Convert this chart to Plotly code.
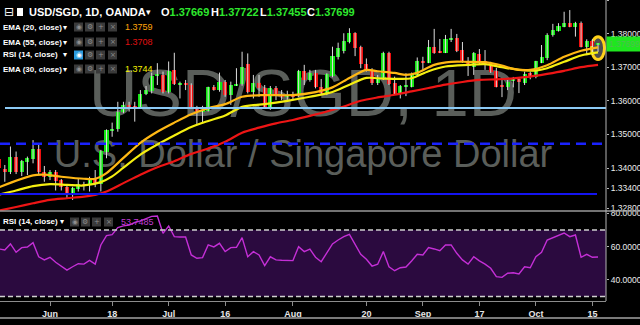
import plotly.graph_objects as go
import pandas as pd

# ------------------------------------------------------------------ data
dates = pd.bdate_range("2018-05-21", "2018-10-16")

opens = [1.3426, 1.3397, 1.3389, 1.3432, 1.3389, 1.3419, 1.3426, 1.3457, 1.3389,
         1.3372, 1.3388, 1.3364, 1.3344, 1.3323, 1.3337, 1.3352, 1.3348, 1.3366, 1.3351,
         1.3449, 1.3510, 1.3515, 1.3568, 1.3586, 1.3584, 1.3581, 1.3619, 1.3629, 1.3675,
         1.3677, 1.3625, 1.3692, 1.3649, 1.3652, 1.3647, 1.3581, 1.3567, 1.3571, 1.3640,
         1.3632, 1.3655, 1.3617, 1.3647, 1.3651, 1.3710, 1.3627, 1.3652, 1.3637, 1.3583,
         1.3637, 1.3617, 1.3612, 1.3614, 1.3617, 1.3690, 1.3662, 1.3684, 1.3642, 1.3620,
         1.3674, 1.3729, 1.3749, 1.3776, 1.3801, 1.3759, 1.3710, 1.3692, 1.3654, 1.3664,
         1.3741, 1.3652, 1.3620, 1.3642, 1.3642, 1.3677, 1.3719, 1.3714, 1.3759, 1.3748,
         1.3743, 1.3781, 1.3787, 1.3751, 1.3719, 1.3701, 1.3739, 1.3719, 1.3707, 1.3689,
         1.3647, 1.3641, 1.3660, 1.3665, 1.3653, 1.3683, 1.3670, 1.3714, 1.3726, 1.3796,
         1.3809, 1.3821, 1.3833, 1.3821, 1.3833, 1.3761, 1.3779, 1.37669]
highs = [1.3430, 1.3409, 1.3464, 1.3449, 1.3424, 1.3434, 1.3483, 1.3471, 1.3406,
         1.3394, 1.3394, 1.3367, 1.3347, 1.3344, 1.3369, 1.3359, 1.3374, 1.3394, 1.3454,
         1.3515, 1.3535, 1.3597, 1.3597, 1.3597, 1.3597, 1.3632, 1.3644, 1.3684, 1.3712,
         1.3687, 1.3717, 1.3743, 1.3657, 1.3662, 1.3652, 1.3585, 1.3585, 1.3642, 1.3647,
         1.3684, 1.3662, 1.3657, 1.3697, 1.3746, 1.3741, 1.3677, 1.3677, 1.3647, 1.3644,
         1.3644, 1.3632, 1.3630, 1.3627, 1.3692, 1.3707, 1.3692, 1.3692, 1.3665, 1.3682,
         1.3761, 1.3773, 1.3801, 1.3816, 1.3804, 1.3764, 1.3726, 1.3697, 1.3677, 1.3746,
         1.3746, 1.3672, 1.3647, 1.3682, 1.3684, 1.3729, 1.3731, 1.3781, 1.3814, 1.3784,
         1.3796, 1.3814, 1.3799, 1.3775, 1.3730, 1.3745, 1.3754, 1.3751, 1.3716, 1.3698,
         1.3668, 1.3662, 1.3671, 1.3668, 1.3687, 1.3687, 1.3719, 1.3766, 1.3801, 1.3829,
         1.3831, 1.3865, 1.3870, 1.3835, 1.3836, 1.3783, 1.3783, 1.37722]
lows = [1.3396, 1.3359, 1.3382, 1.3382, 1.3376, 1.3379, 1.3414, 1.3382, 1.3359,
        1.3364, 1.3333, 1.3333, 1.3310, 1.3305, 1.3330, 1.3333, 1.3330, 1.3343, 1.3330,
        1.3429, 1.3493, 1.3508, 1.3563, 1.3568, 1.3538, 1.3578, 1.3617, 1.3622, 1.3647,
        1.3622, 1.3622, 1.3647, 1.3607, 1.3632, 1.3578, 1.3531, 1.3533, 1.3568, 1.3630,
        1.3627, 1.3612, 1.3588, 1.3644, 1.3645, 1.3622, 1.3607, 1.3612, 1.3578, 1.3573,
        1.3602, 1.3602, 1.3603, 1.3602, 1.3612, 1.3647, 1.3657, 1.3637, 1.3620, 1.3617,
        1.3670, 1.3723, 1.3741, 1.3771, 1.3733, 1.3697, 1.3687, 1.3647, 1.3647, 1.3662,
        1.3647, 1.3617, 1.3607, 1.3614, 1.3640, 1.3672, 1.3692, 1.3712, 1.3740, 1.3742,
        1.3742, 1.3775, 1.3745, 1.3713, 1.3674, 1.3677, 1.3707, 1.3692, 1.3683, 1.3640,
        1.3611, 1.3632, 1.3640, 1.3623, 1.3647, 1.3664, 1.3667, 1.3712, 1.3721, 1.3791,
        1.3806, 1.3819, 1.3819, 1.3791, 1.3759, 1.3736, 1.3736, 1.37455]
closes = [1.3399, 1.3389, 1.3432, 1.3389, 1.3421, 1.3431, 1.3457, 1.3389, 1.3372,
          1.3388, 1.3361, 1.3344, 1.3323, 1.3340, 1.3352, 1.3348, 1.3366, 1.3351, 1.3451,
          1.3513, 1.3516, 1.3568, 1.3588, 1.3582, 1.3580, 1.3620, 1.3632, 1.3675, 1.3679,
          1.3625, 1.3690, 1.3650, 1.3652, 1.3649, 1.3581, 1.3568, 1.3573, 1.3640, 1.3632,
          1.3655, 1.3617, 1.3647, 1.3651, 1.3702, 1.3627, 1.3652, 1.3637, 1.3583, 1.3637,
          1.3617, 1.3612, 1.3614, 1.3612, 1.3690, 1.3662, 1.3684, 1.3640, 1.3622, 1.3680,
          1.3733, 1.3756, 1.3779, 1.3803, 1.3756, 1.3709, 1.3692, 1.3654, 1.3664, 1.3741,
          1.3650, 1.3620, 1.3644, 1.3647, 1.3677, 1.3717, 1.3714, 1.3759, 1.3743, 1.3743,
          1.3783, 1.3784, 1.3748, 1.3716, 1.3704, 1.3742, 1.3716, 1.3707, 1.3686, 1.3641,
          1.3641, 1.3656, 1.3662, 1.3656, 1.3680, 1.3671, 1.3717, 1.3729, 1.3796, 1.3811,
          1.3823, 1.3833, 1.3819, 1.3833, 1.3761, 1.3779, 1.3763, 1.37699]

rsi = [58.6, 58.0, 61.6, 56.6, 59.4, 59.8, 62.4, 53.9, 52.0,
       53.6, 50.6, 48.2, 45.9, 47.9, 49.7, 49.5, 51.7, 49.5, 61.0,
       66.6, 67.2, 71.4, 72.5, 73.0, 74.5, 75.5, 77.0, 78.2, 78.4,
       68.0, 72.4, 66.0, 65.8, 65.8, 55.0, 53.0, 53.4, 61.0, 59.8,
       62.0, 57.0, 59.4, 59.6, 65.4, 53.9, 57.0, 55.0, 48.6, 53.9,
       52.0, 51.8, 51.7, 51.6, 60.0, 57.0, 58.5, 53.6, 50.9, 56.0,
       61.6, 64.0, 66.0, 67.4, 61.0, 55.4, 52.4, 48.3, 49.4, 57.0,
       47.9, 45.5, 47.3, 47.7, 51.4, 55.4, 55.0, 59.4, 58.6, 57.6,
       61.0, 61.0, 56.0, 52.0, 49.5, 53.9, 51.4, 49.5, 47.0, 41.9,
       41.5, 44.0, 44.3, 43.5, 47.9, 47.3, 53.9, 56.6, 64.0, 65.4,
       67.0, 68.2, 66.0, 67.0, 53.6, 55.4, 53.6, 53.7485]

# EMA readings: bar index -> value
ema20_at = [0, 6, 8, 11, 15, 17, 19, 22, 25, 28, 31, 34, 37, 40, 43, 47, 52, 56, 59, 62,
            65, 67, 70, 72, 74, 77, 80, 83, 86, 89, 91, 94, 97, 100, 103, 106]
ema20 = [1.3343, 1.3378, 1.3380, 1.3374, 1.3368, 1.3368, 1.3385, 1.3430, 1.3475, 1.3508,
         1.3535, 1.3560, 1.3578, 1.3590, 1.3612, 1.3617, 1.3617, 1.3626, 1.3640, 1.3668,
         1.3692, 1.3688, 1.3683, 1.3677, 1.3683, 1.3707, 1.3716, 1.3716, 1.3715, 1.3705,
         1.3695, 1.3692, 1.3706, 1.3731, 1.3749, 1.3759]
ema30_at = [0, 3, 6, 9, 12, 15, 18, 20, 22, 25, 28, 31, 34, 37, 40, 43, 47, 51, 55, 59,
            62, 65, 68, 71, 73, 76, 79, 83, 86, 89, 92, 95, 97, 100, 103, 106]
ema30 = [1.3321, 1.3333, 1.3346, 1.3352, 1.3350, 1.3348, 1.3358, 1.3375, 1.3401, 1.3440,
         1.3470, 1.3497, 1.3522, 1.3540, 1.3556, 1.3582, 1.3590, 1.3600, 1.3612, 1.3626,
         1.3648, 1.3668, 1.3666, 1.3665, 1.3667, 1.3688, 1.3702, 1.3707, 1.3709, 1.3700,
         1.3692, 1.3690, 1.3697, 1.3716, 1.3735, 1.3744]
ema55_at = [0, 3, 6, 9, 12, 15, 17, 19, 22, 25, 28, 31, 34, 37, 40, 43, 46, 49, 52, 55,
            58, 61, 64, 67, 70, 73, 76, 79, 82, 85, 88, 91, 94, 97, 100, 103, 106]
ema55 = [1.3273, 1.3284, 1.3295, 1.3305, 1.3310, 1.3315, 1.3320, 1.3330, 1.3355, 1.3380,
         1.3402, 1.3420, 1.3442, 1.3458, 1.3478, 1.3505, 1.3520, 1.3533, 1.3543, 1.3555,
         1.3568, 1.3583, 1.3600, 1.3610, 1.3618, 1.3628, 1.3638, 1.3648, 1.3656, 1.3662,
         1.3664, 1.3667, 1.3672, 1.3680, 1.3689, 1.3700, 1.3707]

level_light = 1.35786
level_dashed = 1.34723
level_solid = 1.33229

price_ticks = [1.39, 1.38, 1.37, 1.36, 1.35, 1.34, 1.334, 1.328]
rsi_ticks = [80, 60, 40]
tick_dates = ["2018-06-01", "2018-06-18", "2018-07-02", "2018-07-16", "2018-08-01",
              "2018-08-20", "2018-09-03", "2018-09-17", "2018-10-01", "2018-10-15"]
tick_labels = ["Jun", "18", "Jul", "16", "Aug", "20", "Sep", "17", "Oct", "15"]

# ------------------------------------------------------------------ helpers
k = list(range(len(dates)))
tick_k = [dates.get_loc(pd.Timestamp(d)) for d in tick_dates]
W_PLOT, H_PLOT = 606, 301


def px(x):
    return x / W_PLOT


def py(y):
    return 1 - y / H_PLOT


GREEN = "#12e612"
RED = "#f01010"
FONT = "Liberation Sans"

fig = go.Figure()

# wicks
wx, wy = [], []
for i in k:
    wx += [i, i, None]
    wy += [lows[i], highs[i], None]
fig.add_trace(go.Scatter(x=wx, y=wy, mode="lines", line=dict(color="#dcdcdc", width=1),
                         hoverinfo="skip", showlegend=False))
# bodies
body_h = [max(abs(c - o), 0.0003) for o, c in zip(opens, closes)]
body_b = [min(o, c) for o, c in zip(opens, closes)]
body_c = [GREEN if c >= o else RED for o, c in zip(opens, closes)]
fig.add_trace(go.Bar(x=k, y=body_h, base=body_b, width=0.72,
                     marker=dict(color=body_c, line=dict(width=0)),
                     hoverinfo="skip", showlegend=False))

# EMAs
fig.add_trace(go.Scatter(x=ema55_at, y=ema55, mode="lines",
                         line=dict(color="#ee1515", width=2.2, shape="spline", smoothing=0.8),
                         showlegend=False))
fig.add_trace(go.Scatter(x=ema30_at, y=ema30, mode="lines",
                         line=dict(color="#f5ef10", width=2.2, shape="spline", smoothing=0.8),
                         showlegend=False))
fig.add_trace(go.Scatter(x=ema20_at, y=ema20, mode="lines",
                         line=dict(color="#ffb814", width=2.2, shape="spline", smoothing=0.8),
                         showlegend=False))

# RSI
fig.add_trace(go.Scatter(x=k, y=rsi, mode="lines", yaxis="y2",
                         line=dict(color="#c42fd6", width=1.4), showlegend=False))

shapes = []
# RSI band
shapes.append(dict(type="rect", xref="paper", yref="y2", x0=0, x1=1, y0=30, y1=70,
                   fillcolor="#2b0a3f", line=dict(width=0), layer="below"))
for lv in (70, 30):
    shapes.append(dict(type="line", xref="paper", yref="y2", x0=0, x1=1, y0=lv, y1=lv,
                       line=dict(color="#cfcfcf", width=1.5, dash="5px,3px"), layer="above"))
# horizontal levels
shapes.append(dict(type="line", xref="paper", yref="y", x0=px(5), x1=1, y0=level_light, y1=level_light,
                   line=dict(color="#8ccaf5", width=2), layer="above"))
shapes.append(dict(type="line", xref="paper", yref="y", x0=0, x1=1, y0=level_dashed, y1=level_dashed,
                   line=dict(color="#1a22ff", width=2.5, dash="10px,6px"), layer="above"))
shapes.append(dict(type="line", xref="paper", yref="y", x0=0, x1=px(597), y0=level_solid, y1=level_solid,
                   line=dict(color="#1414f0", width=2), layer="above"))
# highlight around last bar
lk = k[-1]
mid = (highs[-1] + lows[-1]) / 2
shapes.append(dict(type="circle", xref="x", yref="y", x0=lk - 1.15, x1=lk + 1.15,
                   y0=mid - 0.0036, y1=mid + 0.0032,
                   fillcolor="rgba(85,85,85,0.9)", line=dict(color="#ffd21a", width=3), layer="below"))
# watermark
shapes.append(dict(type="rect", xref="paper", yref="paper", x0=0, x1=1, y0=py(112), y1=py(60),
                   line=dict(width=0), fillcolor="rgba(0,0,0,0)", layer="below",
                   label=dict(text="USD/SGD, 1D", textposition="middle center",
                              font=dict(family=FONT, size=67, color="#5a5e5a"))))
shapes.append(dict(type="rect", xref="paper", yref="paper", x0=0, x1=1, y0=py(165), y1=py(135),
                   line=dict(width=0), fillcolor="rgba(0,0,0,0)", layer="below",
                   label=dict(text="U.S. Dollar / Singapore Dollar", textposition="middle center",
                              font=dict(family=FONT, size=38, color="#5a5e5a"))))
# pane separator, bottom line, right axis line
shapes.append(dict(type="line", xref="paper", yref="paper", x0=0, x1=640 / W_PLOT, y0=py(211), y1=py(211),
                   line=dict(color="#9a9a9a", width=1.5)))
shapes.append(dict(type="line", xref="paper", yref="paper", x0=0, x1=640 / W_PLOT, y0=py(318), y1=py(318),
                   line=dict(color="#7a7a7a", width=2)))
shapes.append(dict(type="line", xref="paper", yref="paper", x0=1, x1=1, y0=0, y1=1,
                   line=dict(color="#b4b4b4", width=1)))

annotations = []


def txt(x, y, text, size=9, color="#ffffff", bold=True, family=FONT):
    annotations.append(dict(xref="paper", yref="paper", x=px(x), y=py(y), xanchor="left",
                            yanchor="middle", showarrow=False, text=text,
                            font=dict(family=family, size=size, color=color,
                                      weight="bold" if bold else "normal")))


def icons(y, xs, first_blue=False):
    glyphs = ["◉", "⚙", "+", "×"]
    for j, x0 in enumerate(xs):
        blue = first_blue and j == 0
        shapes.append(dict(type="rect", xref="paper", yref="paper", x0=px(x0), x1=px(x0 + 9),
                           y0=py(y + 4.5), y1=py(y - 4.5), line=dict(width=0),
                           fillcolor="#2a9be0" if blue else "#3a3a3a"))
        annotations.append(dict(xref="paper", yref="paper", x=px(x0 + 4.5), y=py(y), xanchor="center",
                                yanchor="middle", showarrow=False, text=glyphs[j],
                                font=dict(family="DejaVu Sans", size=7,
                                          color="#ffffff" if blue else "#8e8e8e")))


# header row
txt(2, 12, "⊟", size=12, family="DejaVu Sans", bold=False)
shapes.append(dict(type="rect", xref="paper", yref="paper", x0=px(17), x1=px(23), y0=py(16), y1=py(8),
                   fillcolor="#ffffff", line=dict(width=0)))
txt(27, 12, "USD/SGD, 1D, OANDA", size=11)
txt(144, 12, "▾", size=9, family="DejaVu Sans")
VAL = "#2ee82e"
for lx, lab, val in [(159, "O", "1.37669"), (209, "H", "1.37722"),
                     (258, "L", "1.37455"), (305, "C", "1.37699")]:
    txt(lx, 12, f"{lab}<span style='color:{VAL}'>{val}</span>", size=11)

rows = [(27, "EMA (20, close)", "1.3759", "#ffa50a", False),
        (42, "EMA (55, close)", "1.3708", "#e01010", False),
        (55, "RSI (14, close)", None, None, True),
        (69, "EMA (30, close)", "1.3744", "#f5f000", False)]
for y, lab, val, col, blue in rows:
    txt(1, y, lab, size=8)
    txt(61, y, "▾", size=8, family="DejaVu Sans")
    icons(y, [74, 85, 96, 108], first_blue=blue)
    if val:
        txt(123, y, val, size=9, color=col, bold=False)

# RSI pane legend
txt(1, 222, "RSI (14, close)", size=8)
txt(58, 222, "▾", size=8, family="DejaVu Sans")
icons(222, [70, 81, 92, 104])
txt(119, 222, f"{rsi[-1]:.4f}", size=9, color="#c23bd4", bold=False)

# last price tag
annotations.append(dict(xref="paper", yref="y", x=1, y=closes[-1], xanchor="left", yanchor="middle",
                        showarrow=False, text=f"{closes[-1]:.5f}", bgcolor="#1fe61f",
                        borderpad=2, font=dict(family=FONT, size=8.5, color="#4fbf4f")))

fig.update_layout(
    width=640, height=325,
    margin=dict(l=0, r=34, t=0, b=24),
    paper_bgcolor="#000000", plot_bgcolor="#000000",
    showlegend=False, bargap=0,
    xaxis=dict(range=[0.15, 107.41], tickvals=tick_k, ticktext=tick_labels,
               showgrid=False, zeroline=False, showline=True, linecolor="#8c8c8c",
               ticks="outside", ticklen=4, tickcolor="#8c8c8c", automargin=False,
               tickfont=dict(family=FONT, size=9, color="#e6e6e6", weight="bold"),
               anchor="y2"),
    yaxis=dict(domain=[1 - 211 / H_PLOT, 1], range=[1.327202, 1.39], side="right",
               tickvals=price_ticks, ticktext=[f"{v:.5f}" for v in price_ticks],
               showgrid=False, zeroline=False, ticks="outside", ticklen=2,
               tickcolor="#b4b4b4", automargin=False,
               tickfont=dict(family=FONT, size=8.5, color="#ececec")),
    yaxis2=dict(domain=[0, 89 / H_PLOT], range=[27.29, 80.83], side="right",
                tickvals=rsi_ticks, ticktext=[f"{v:.4f}" for v in rsi_ticks],
                showgrid=False, zeroline=False, ticks="outside", ticklen=2,
                tickcolor="#b4b4b4", automargin=False,
                tickfont=dict(family=FONT, size=8.5, color="#ececec")),
    shapes=shapes, annotations=annotations,
)

fig.write_html("out.html")
